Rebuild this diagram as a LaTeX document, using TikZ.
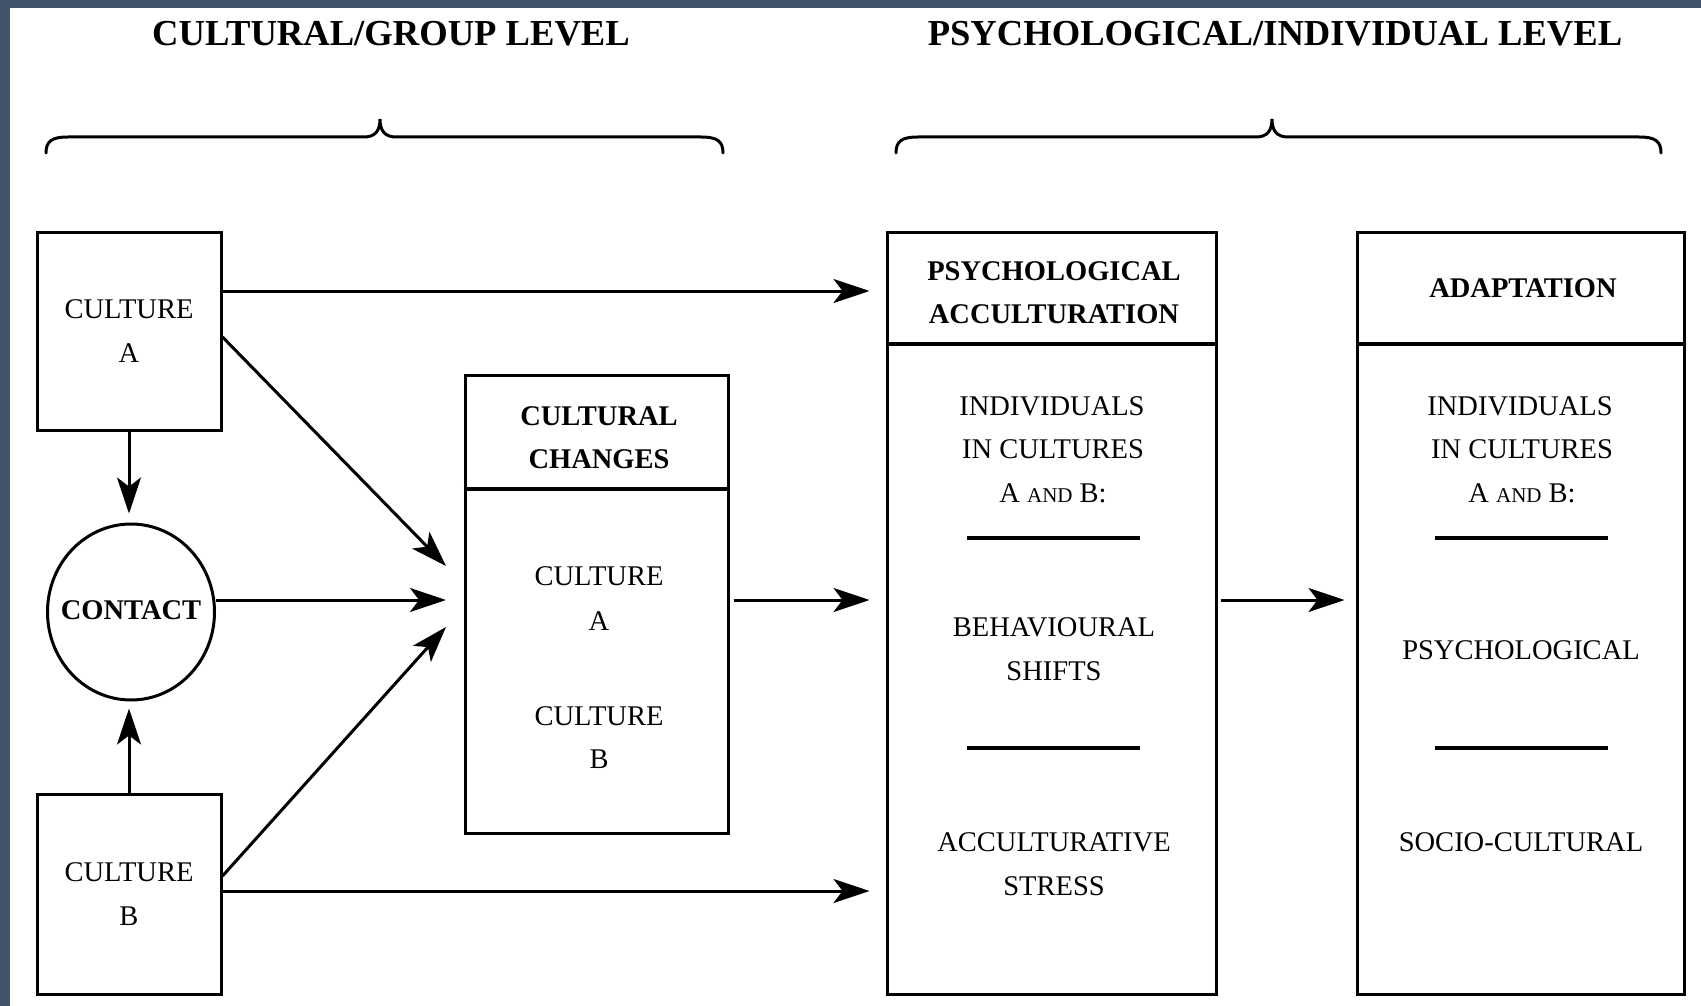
\documentclass[tikz,border=0pt]{standalone}
\usepackage{fontspec}
\setmainfont{Liberation Serif}
\usetikzlibrary{arrows.meta,shapes.geometric}
\definecolor{framecol}{RGB}{67,83,105}

\begin{document}
\begin{tikzpicture}[x=1pt,y=-1pt,
  box/.style={draw,line width=3pt,rectangle,inner sep=0pt},
  arr/.style={line width=3pt,-{Stealth[length=36pt,width=24pt,inset=9pt]}},
  txt/.style={font=\fontsize{28.5}{44.5}\selectfont,anchor=base,inner sep=0pt},
  btxt/.style={font=\fontsize{28.5}{44.5}\selectfont\bfseries,anchor=base,inner sep=0pt},
  ttl/.style={font=\fontsize{36.6}{40}\selectfont\bfseries,anchor=base,inner sep=0pt},
  sepline/.style={line width=4.5pt},
  divline/.style={line width=4pt},
  brc/.style={line width=3pt,line cap=round}]

\useasboundingbox (0,0) rectangle (1701,1006);
\fill[white] (0,0) rectangle (1701,1006);
\fill[framecol] (0,0) rectangle (1701,8);
\fill[framecol] (0,0) rectangle (10,1006);

% titles
\node[ttl] (tleft) at (391,46) {CULTURAL/GROUP LEVEL};
\node[ttl] (tright) at (1275,46) {PSYCHOLOGICAL/INDIVIDUAL LEVEL};

% braces
\draw[brc] (46,153) .. controls (46,141) and (52,137) .. (68,137) -- (364,137)
  .. controls (375,137) and (380,131) .. (380,119)
  .. controls (380,131) and (385,137) .. (396,137) -- (701,137)
  .. controls (717,137) and (723,141) .. (723,153);
\draw[brc] (896,153) .. controls (896,141) and (902,137) .. (918,137) -- (1256,137)
  .. controls (1267,137) and (1272,131) .. (1272,119)
  .. controls (1272,131) and (1277,137) .. (1288,137) -- (1639,137)
  .. controls (1655,137) and (1661,141) .. (1661,153);

% left boxes
\node[box,minimum width=184pt,minimum height=198pt,align=center,
      font=\fontsize{28.5}{44.5}\selectfont] (ca) at (129,331) {CULTURE\\A};
\node[box,minimum width=184pt,minimum height=200pt,align=center,
      font=\fontsize{28.5}{44.5}\selectfont] (cb) at (129,894) {CULTURE\\B};
\node[draw,line width=3pt,ellipse,minimum width=167pt,minimum height=176pt,inner sep=0pt] (contact) at (131,612) {};
\node[btxt] (contacttxt) at (131,619.5) {CONTACT};

% cultural changes box
\node[box,minimum width=263pt,minimum height=458pt] (cc) at (596.5,604) {};
\draw[divline] (cc.west |- 0,489) -- (cc.east |- 0,489);
\node[btxt] (cch1) at (599,425) {CULTURAL};
\node[btxt] (cch2) at (599,468) {CHANGES};
\node[txt] (ccb1) at (599,585) {CULTURE};
\node[txt] (ccb2) at (599,630) {A};
\node[txt] (ccb3) at (599,725) {CULTURE};
\node[txt] (ccb4) at (599,768) {B};

% psychological acculturation box
\node[box,minimum width=329pt,minimum height=762pt] (pa) at (1051.5,613) {};
\draw[divline] (pa.west |- 0,344) -- (pa.east |- 0,344);
\node[btxt] (pah1) at (1054,280) {PSYCHOLOGICAL};
\node[btxt] (pah2) at (1054,323) {ACCULTURATION};
\node[txt] (pab1) at (1052,415) {INDIVIDUALS};
\node[txt] (pab2) at (1053,458) {IN CULTURES};
\node[txt] (pab3) at (1053,502) {A {\fontsize{21}{21}\selectfont AND} B:};
\coordinate (pas1a) at (967,538); \coordinate (pas1b) at (1140,538);
\draw[sepline] (pas1a) -- (pas1b);
\node[txt] (pab4) at (1054,636) {BEHAVIOURAL};
\node[txt] (pab5) at (1054,680) {SHIFTS};
\coordinate (pas2a) at (967,748); \coordinate (pas2b) at (1140,748);
\draw[sepline] (pas2a) -- (pas2b);
\node[txt] (pab6) at (1054,851) {ACCULTURATIVE};
\node[txt] (pab7) at (1054,895) {STRESS};

% adaptation box
\node[box,minimum width=327pt,minimum height=762pt] (ad) at (1520.5,613) {};
\draw[divline] (ad.west |- 0,344) -- (ad.east |- 0,344);
\node[btxt] (adh1) at (1523,297) {ADAPTATION};
\node[txt] (adb1) at (1520,415) {INDIVIDUALS};
\node[txt] (adb2) at (1522,458) {IN CULTURES};
\node[txt] (adb3) at (1522,502) {A {\fontsize{21}{21}\selectfont AND} B:};
\coordinate (ads1a) at (1435,538); \coordinate (ads1b) at (1608,538);
\draw[sepline] (ads1a) -- (ads1b);
\node[txt] (adb4) at (1521,659) {PSYCHOLOGICAL};
\coordinate (ads2a) at (1435,748); \coordinate (ads2b) at (1608,748);
\draw[sepline] (ads2a) -- (ads2b);
\node[txt] (adb5) at (1521,851) {SOCIO-CULTURAL};

% arrow end points in front of the cultural changes box
\coordinate (inA) at (446,566);
\coordinate (inC) at (446,600);
\coordinate (inB) at (446,627);

% connectors
\draw[arr,shorten >=9pt] (ca.south) -- (ca.south |- contact.north);
\draw[arr,shorten >=7pt] (cb.north) -- (cb.north |- contact.south);
\draw[arr] ([yshift=-6pt]ca.east) -- (inA);
\draw[arr] ([yshift=12pt]contact.east) -- (inC);
\draw[arr] ([yshift=18pt]cb.east) -- (inB);
\draw[arr,shorten >=16pt] ([yshift=40pt]ca.east) -- ([yshift=40pt]ca.east -| pa.west);
\draw[arr,shorten >=16pt] ([yshift=3pt]cb.east) -- ([yshift=3pt]cb.east -| pa.west);
\draw[arr,shorten <=4pt,shorten >=16pt] ([yshift=4pt]cc.east) -- ([yshift=4pt]cc.east -| pa.west);
\draw[arr,shorten <=3pt,shorten >=11pt] ([yshift=13pt]pa.east) -- ([yshift=13pt]pa.east -| ad.west);
\end{tikzpicture}
\end{document}
